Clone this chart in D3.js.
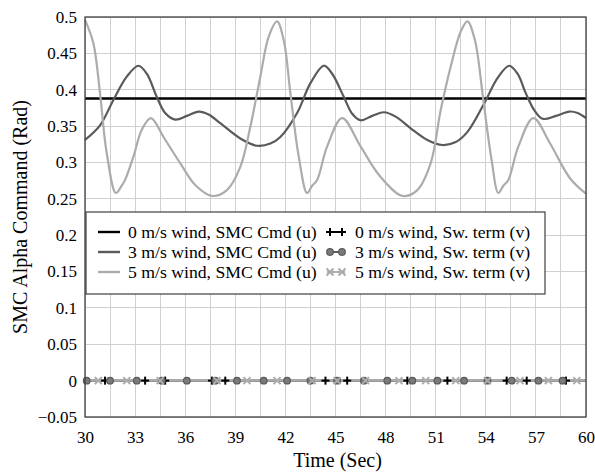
<!DOCTYPE html>
<html><head><meta charset="utf-8">
<script src="https://cdn.jsdelivr.net/npm/d3@7"></script>
<style>body{margin:0;background:#fff}svg{display:block}text{fill:#000}</style>
</head><body><svg id="c" width="595" height="474" font-family="Liberation Serif"></svg>
<script>
// ---- data ----
const xTicks = [30,33,36,39,42,45,48,51,54,57,60];
const yTicks = [-0.05,0,0.05,0.1,0.15,0.2,0.25,0.3,0.35,0.4,0.45,0.5];
const seriesNames = ["0 m/s wind, SMC Cmd (u)","3 m/s wind, SMC Cmd (u)","5 m/s wind, SMC Cmd (u)",
  "0 m/s wind, Sw. term (v)","3 m/s wind, Sw. term (v)","5 m/s wind, Sw. term (v)"];
const u0 = [[30,0.388],[33,0.388],[36,0.388],[39,0.388],[42,0.388],[45,0.388],[48,0.388],[51,0.388],[54,0.388],[57,0.388],[60,0.388]];
const u3 = [[30.0,0.331],[30.9,0.351],[31.7,0.386],[32.5,0.418],[33.2,0.433],[33.7,0.422],[34.3,0.390],[34.8,0.368],[35.4,0.359],[36.1,0.364],[36.8,0.370],[37.4,0.366],
  [38.1,0.354],[39.3,0.333],[40.3,0.323],[41.1,0.326],[41.7,0.335],[42.7,0.368],[43.5,0.409],[44.3,0.433],[44.8,0.422],[45.5,0.390],
  [46.0,0.367],[46.5,0.358],[47.2,0.364],[47.9,0.369],[48.6,0.363],[49.5,0.347],[50.5,0.331],[51.4,0.324],[52.2,0.328],[52.9,0.342],[53.9,0.381],
  [54.7,0.416],[55.4,0.433],[55.9,0.422],[56.4,0.395],[56.9,0.372],[57.4,0.360],[58.2,0.364],[59.0,0.370],[59.5,0.368],[60.0,0.361]];
const u5 = [[30.0,0.496],[30.5,0.464],[30.9,0.395],[31.3,0.313],[31.85,0.258],[32.2,0.268],[32.4,0.276],[32.9,0.308],[33.4,0.345],[33.95,0.361],
  [34.7,0.335],[35.7,0.299],[36.6,0.269],[37.6,0.254],[38.5,0.262],[39.3,0.294],[39.9,0.349],[40.5,0.418],[41.0,0.473],[41.5,0.494],
  [41.9,0.468],[42.3,0.395],[42.8,0.308],[43.3,0.258],[43.6,0.268],[43.9,0.276],[44.5,0.322],[45.4,0.361],[46.5,0.322],[47.7,0.280],
  [49.0,0.254],[49.9,0.262],[50.7,0.299],[51.3,0.372],[51.9,0.432],[52.5,0.480],[52.9,0.494],[53.35,0.468],[53.85,0.386],[54.35,0.303],
  [54.75,0.258],[55.05,0.268],[55.35,0.276],[55.95,0.322],[56.85,0.361],[57.85,0.326],[59.05,0.278],[60.0,0.257]];
const v0Times = [31.2,33.6,34.8,37.6,38.4,44.4,45.7,49.3,51.7,55.25,56.45,58.8];
const v3Times = [30.1,31.5,33.1,34.6,36.1,37.8,39.1,40.7,42.1,43.5,45.1,46.7,48.1,49.6,51.1,52.7,54.1,55.55,57.15,58.6];
const v5Times = [30.8,32.5,34.5,37.9,39.7,41.5,43.6,45.1,46.8,48.8,50.4,52.2,54.1,56.05,57.75,59.45];
const vValue = 0;

// ---- chart ----
const FONT = "Liberation Serif";
const svg = d3.select("#c");
const L=85, R=586, T=17, B=417;
const x = d3.scaleLinear().domain([30,60]).range([L,R]);
const y = d3.scaleLinear().domain([-0.05,0.5]).range([B,T]);
const cBlack="#000", cDark="#5a5a5a", cLight="#acacac";

// grid
const g = svg.append("g");
g.selectAll("line.v").data(d3.range(30,60.01,1.5)).join("line")
  .attr("x1",d=>x(d)).attr("x2",d=>x(d)).attr("y1",T).attr("y2",B)
  .attr("stroke","#d0d0d0").attr("stroke-width",1).attr("shape-rendering","crispEdges");
g.selectAll("line.h").data(yTicks).join("line")
  .attr("x1",L).attr("x2",R).attr("y1",d=>y(d)).attr("y2",d=>y(d))
  .attr("stroke","#d0d0d0").attr("stroke-width",1).attr("shape-rendering","crispEdges");

// axes
const ax = svg.append("g").attr("transform",`translate(0,${B})`)
  .call(d3.axisBottom(x).tickValues(xTicks).tickSize(0).tickPadding(14).tickFormat(d3.format("d")))
  .attr("font-family",FONT).attr("font-size",17);
ax.select(".domain").remove();
const ay = svg.append("g").attr("transform",`translate(${L},0)`)
  .call(d3.axisLeft(y).tickValues(yTicks).tickSize(0).tickPadding(8).tickFormat(d=>d3.format("")(+d.toFixed(2))))
  .attr("font-family",FONT).attr("font-size",17);
ay.select(".domain").remove();

svg.append("text").attr("x",(L+R)/2+2).attr("y",467).attr("text-anchor","middle")
  .attr("font-family",FONT).attr("font-size",20).text("Time (Sec)");
svg.append("text").attr("transform",`translate(27,${(T+B)/2}) rotate(-90)`).attr("text-anchor","middle")
  .attr("font-family",FONT).attr("font-size",20).text("SMC Alpha Command (Rad)");

// lines
const line = d3.line().x(d=>x(d[0])).y(d=>y(d[1])).curve(d3.curveCatmullRom.alpha(0.5));
const plot = svg.append("g");
const zeroLine = (times) => [[30,vValue],...times.map(t=>[t,vValue]),[60,vValue]];
plot.append("path").datum(zeroLine(v0Times)).attr("d",line).attr("fill","none").attr("stroke",cBlack).attr("stroke-width",2);
plot.append("path").datum(zeroLine(v3Times)).attr("d",line).attr("fill","none").attr("stroke",cDark).attr("stroke-width",2);
plot.append("path").datum(zeroLine(v5Times)).attr("d",line).attr("fill","none").attr("stroke",cLight).attr("stroke-width",2.2);

function plus(sel, px, py){
  sel.append("line").attr("x1",px).attr("x2",px).attr("y1",py-4).attr("y2",py+4).attr("stroke",cBlack).attr("stroke-width",2);
  sel.append("line").attr("x1",px-4).attr("x2",px+4).attr("y1",py).attr("y2",py).attr("stroke",cBlack).attr("stroke-width",2);
}
function circ(sel, px, py){
  sel.append("circle").attr("cx",px).attr("cy",py).attr("r",3.3).attr("fill","#7a7a7a").attr("stroke",cDark).attr("stroke-width",1.2);
}
function cross(sel, px, py){
  sel.append("path").attr("d",`M${px-3.5},${py-3.5}L${px+3.5},${py+3.5}M${px-3.5},${py+3.5}L${px+3.5},${py-3.5}`)
    .attr("stroke",cLight).attr("stroke-width",2).attr("fill","none");
}
const mk = svg.append("g");
v0Times.forEach(t=>plus(mk,x(t),y(vValue)));
v3Times.forEach(t=>circ(mk,x(t),y(vValue)));
v5Times.forEach(t=>cross(mk,x(t),y(vValue)));

plot.append("path").datum(u0).attr("d",line).attr("fill","none").attr("stroke",cBlack).attr("stroke-width",2.6);
plot.append("path").datum(u3).attr("d",line).attr("fill","none").attr("stroke",cDark).attr("stroke-width",2.2);
plot.append("path").datum(u5).attr("d",line).attr("fill","none").attr("stroke",cLight).attr("stroke-width",2.2);

// frame
svg.append("rect").attr("x",L).attr("y",T).attr("width",R-L).attr("height",B-T)
  .attr("fill","none").attr("stroke","#404040").attr("stroke-width",1.3);

// legend
const lg = svg.append("g").attr("font-family",FONT).attr("font-size",17.7);
lg.append("rect").attr("x",86).attr("y",212).attr("width",459).attr("height",82)
  .attr("fill","#fff").attr("stroke","#404040").attr("stroke-width",1.2);
const rowY = [232,252,272];
rowY.forEach((ry,i)=>{
  const c = [cBlack,cDark,cLight][i];
  lg.append("line").attr("x1",98).attr("x2",120).attr("y1",ry).attr("y2",ry).attr("stroke",c).attr("stroke-width",2.4);
  lg.append("text").attr("x",128).attr("y",ry).attr("dy","0.33em").text(seriesNames[i]);
  lg.append("line").attr("x1",327).attr("x2",345).attr("y1",ry).attr("y2",ry).attr("stroke",c).attr("stroke-width",2);
  const f = [plus,circ,cross][i];
  f(lg,330,ry); f(lg,342,ry);
  lg.append("text").attr("x",355).attr("y",ry).attr("dy","0.33em").text(seriesNames[i+3]);
});
</script></body></html>
